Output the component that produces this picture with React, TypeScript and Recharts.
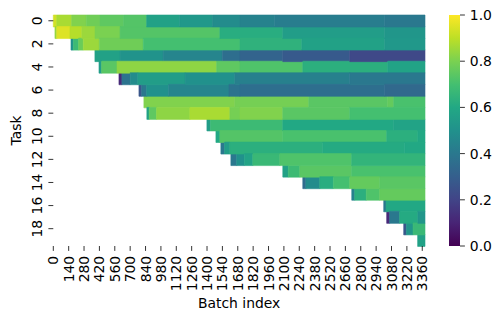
import { BarChart, Bar, Cell, XAxis, YAxis, Label } from 'recharts';

// ── Data ──────────────────────────────────────────────────────────────────────

const N_BATCHES = 3385;

const TASKS = ['0', '1', '2', '3', '4', '5', '6', '7', '8', '9', '10', '11', '12', '13', '14', '15', '16', '17', '18', '19'];

// batch index where each constant-colour piece of a row begins (last entry = end of row)
const TASK_EDGES = [
  [0, 31, 167, 300, 425, 640, 850, 1150, 1450, 1700, 2017, 3018, 3385],
  [15, 31, 152, 260, 380, 608, 1517, 2090, 3018, 3385],
  [161, 182, 230, 273, 419, 819, 1700, 2263, 3018, 3385],
  [379, 608, 1000, 1540, 1700, 2090, 2700, 3385],
  [416, 440, 580, 1487, 1700, 2272, 3045, 3385],
  [598, 625, 700, 770, 1200, 1653, 2700, 3385],
  [780, 805, 850, 1050, 1600, 1700, 3018, 3385],
  [825, 1653, 2326, 3045, 3100, 3385],
  [852, 873, 940, 1244, 1608, 1700, 2090, 2700, 3385],
  [1399, 1430, 2090, 3100, 3385],
  [1481, 1517, 2090, 3036, 3320, 3385],
  [1526, 1560, 1608, 2454, 3200, 3385],
  [1617, 1670, 1740, 1817, 2063, 2717, 3385],
  [2090, 2140, 2245, 2717, 3385],
  [2272, 2300, 2427, 2550, 2700, 2972, 3385],
  [2718, 2745, 2850, 2972, 3385],
  [3009, 3030, 3385],
  [3036, 3063, 3154, 3320, 3385],
  [3191, 3215, 3276, 3385],
  [3318, 3385],
];

// accuracy of each piece
const TASK_VALUES = [
  [0.93, 0.87, 0.81, 0.78, 0.75, 0.73, 0.57, 0.53, 0.48, 0.44, 0.42, 0.40],
  [0.84, 0.95, 0.89, 0.85, 0.80, 0.73, 0.62, 0.55, 0.52],
  [0.50, 0.68, 0.77, 0.85, 0.78, 0.70, 0.64, 0.57, 0.53],
  [0.57, 0.51, 0.45, 0.36, 0.32, 0.28, 0.22],
  [0.55, 0.74, 0.83, 0.75, 0.72, 0.63, 0.58],
  [0.12, 0.38, 0.48, 0.55, 0.50, 0.43, 0.40],
  [0.27, 0.40, 0.50, 0.45, 0.38, 0.36, 0.34],
  [0.81, 0.79, 0.74, 0.76, 0.71],
  [0.57, 0.75, 0.83, 0.87, 0.79, 0.81, 0.74, 0.70],
  [0.55, 0.68, 0.60, 0.58],
  [0.60, 0.73, 0.71, 0.63, 0.60],
  [0.40, 0.55, 0.63, 0.61, 0.60],
  [0.40, 0.50, 0.58, 0.67, 0.72, 0.65],
  [0.57, 0.68, 0.74, 0.71],
  [0.35, 0.48, 0.62, 0.70, 0.76, 0.74],
  [0.44, 0.63, 0.72, 0.76],
  [0.40, 0.60],
  [0.12, 0.40, 0.61, 0.52],
  [0.27, 0.52, 0.67],
  [0.57],
];

const X_TICKS = [0, 140, 280, 420, 560, 700, 840, 980, 1120, 1260, 1400, 1540, 1680, 1820, 1960, 2100, 2240, 2380, 2520, 2660, 2800, 2940, 3080, 3220, 3360];
const CBAR_TICKS = [0, 0.2, 0.4, 0.6, 0.8, 1.0];

// ── Colormap ──────────────────────────────────────────────────────────────────

const VIRIDIS = ['#440154', '#482475', '#414487', '#355f8d', '#2a788e', '#21918c', '#22a884', '#44bf70', '#7ad151', '#bddf26', '#fde725'];

function hex(c: string) {
  return [1, 3, 5].map(i => parseInt(c.slice(i, i + 2), 16));
}

function viridis(v: number) {
  const t = Math.max(0, Math.min(1, v)) * (VIRIDIS.length - 1);
  const i = Math.min(Math.floor(t), VIRIDIS.length - 2);
  const f = t - i;
  const a = hex(VIRIDIS[i]);
  const b = hex(VIRIDIS[i + 1]);
  const m = a.map((x, k) => Math.round(x + (b[k] - x) * f));
  return `rgb(${m[0]},${m[1]},${m[2]})`;
}

// ── Table for stacked bars ────────────────────────────────────────────────────

const N_SEG = Math.max(...TASK_VALUES.map(v => v.length)) + 1;

const tableData = TASKS.map((task, i) => {
  const edges = TASK_EDGES[i];
  const row: Record<string, number | string> = { task, s0: edges[0] };
  for (let k = 1; k < N_SEG; k++) {
    row[`s${k}`] = k < edges.length ? edges[k] - edges[k - 1] : 0;
  }
  return row;
});

const FONT = '"DejaVu Sans", sans-serif';
const FS = 13.9;
const TICK_LINE = { stroke: '#000', strokeWidth: 0.8 };

function XTick({ x, y, payload }: any) {
  return (
    <text x={x} y={y} transform={`rotate(-90, ${x}, ${y})`} textAnchor="end" dominantBaseline="central"
      fontFamily={FONT} fontSize={FS} fill="#000">
      {payload.value}
    </text>
  );
}

function YTick({ x, y, payload }: any) {
  return (
    <text x={x - 1.5} y={y} transform={`rotate(-90, ${x - 1.5}, ${y})`} textAnchor="middle"
      fontFamily={FONT} fontSize={FS} fill="#000">
      {payload.value}
    </text>
  );
}

function CbarTick({ x, y, payload }: any) {
  return (
    <text x={x} y={y} textAnchor="start" dominantBaseline="central" fontFamily={FONT} fontSize={FS} fill="#000">
      {Number(payload.value).toFixed(1)}
    </text>
  );
}

export default function App() {
  return (
    <div style={{ position: 'absolute', left: 0, top: 0, width: 501, height: 321, background: '#fff' }}>
      <div style={{ position: 'absolute', left: 0, top: 0 }}>
        <BarChart
          width={501}
          height={321}
          data={tableData}
          layout="vertical"
          barCategoryGap={0}
          barGap={0}
          margin={{ top: 15, right: 76, bottom: 0, left: 0 }}
        >
          <XAxis
            type="number"
            domain={[0, N_BATCHES]}
            ticks={X_TICKS}
            interval={0}
            axisLine={false}
            tickLine={TICK_LINE}
            tickSize={4.9}
            tickMargin={4.9}
            height={75}
            tick={<XTick />}
          >
            <Label
              content={({ viewBox }: any) => (
                <text x={viewBox.x + viewBox.width / 2} y={viewBox.y + 62} textAnchor="middle"
                  fontFamily={FONT} fontSize={FS} fill="#000">Batch index</text>
              )}
            />
          </XAxis>
          <YAxis
            type="category"
            dataKey="task"
            interval={1}
            axisLine={false}
            tickLine={TICK_LINE}
            tickSize={4.9}
            tickMargin={4.9}
            width={53.3}
            tick={<YTick />}
          >
            <Label
              content={({ viewBox }: any) => {
                const cx = viewBox.x + 20.5;
                const cy = viewBox.y + viewBox.height / 2;
                return (
                  <text x={cx} y={cy} transform={`rotate(-90, ${cx}, ${cy})`} textAnchor="middle"
                    fontFamily={FONT} fontSize={FS} fill="#000">Task</text>
                );
              }}
            />
          </YAxis>
          {Array.from({ length: N_SEG }, (_, k) => (
            <Bar key={k} dataKey={`s${k}`} stackId="h" isAnimationActive={false}>
              {TASKS.map((t, i) => {
                const v = k > 0 ? TASK_VALUES[i][k - 1] : undefined;
                if (v === undefined) return <Cell key={t} fill="transparent" stroke="none" />;
                const c = viridis(v);
                return <Cell key={t} fill={c} stroke={c} strokeWidth={0.6} />;
              })}
            </Bar>
          ))}
        </BarChart>
      </div>

      {/* Colour bar */}
      <div style={{ position: 'absolute', left: 449, top: 0 }}>
        <BarChart
          width={52}
          height={321}
          data={[{ c: 'cbar', v: 1 }]}
          barCategoryGap={0}
          margin={{ top: 15, right: 0, bottom: 75, left: 0 }}
        >
          <defs>
            <linearGradient id="viridisGrad" x1="0" y1="1" x2="0" y2="0">
              {VIRIDIS.map((c, i) => (
                <stop key={i} offset={`${(i / (VIRIDIS.length - 1)) * 100}%`} stopColor={c} />
              ))}
            </linearGradient>
          </defs>
          <XAxis type="category" dataKey="c" hide />
          <YAxis
            type="number"
            orientation="right"
            domain={[0, 1]}
            ticks={CBAR_TICKS}
            interval={0}
            axisLine={false}
            tickLine={TICK_LINE}
            tickSize={4.9}
            tickMargin={4.9}
            width={41}
            tick={<CbarTick />}
          />
          <Bar dataKey="v" fill="url(#viridisGrad)" isAnimationActive={false} />
        </BarChart>
      </div>
    </div>
  );
}
